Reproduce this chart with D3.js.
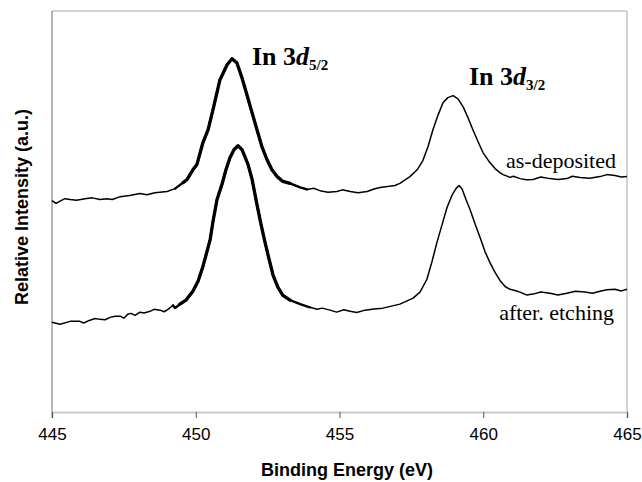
<!DOCTYPE html>
<html>
<head>
<meta charset="utf-8">
<script src="https://cdnjs.cloudflare.com/ajax/libs/d3/7.8.5/d3.min.js"></script>
<style>
body { margin: 0; background: #fff; }
svg { display: block; }
</style>
</head>
<body>
<svg id="svg"></svg>
<script>
// XPS spectra, In 3d region

var asDepEnergy = [445.00, 445.14, 445.28, 445.45, 445.63, 445.85, 446.15, 446.40, 446.67, 446.91,
    447.10, 447.37, 447.70, 448.06, 448.30, 448.58, 449.00,
    449.28, 449.56, 449.70, 449.90, 450.04, 450.25, 450.43, 450.60, 450.84, 451.09,
    451.26, 451.43, 451.61, 451.78, 451.96, 452.13, 452.30, 452.48, 452.65, 452.83,
    453.03, 453.28, 453.63, 453.87, 454.10, 454.32, 454.60, 454.91, 455.10, 455.37,
    455.65, 455.96, 456.20, 456.41, 456.93,
    457.10, 457.45, 457.70, 457.90, 458.08, 458.25, 458.43, 458.60, 458.77, 458.95,
    459.12, 459.30, 459.47, 459.64, 459.82, 459.99, 460.23, 460.41, 460.58, 460.69,
    460.93, 461.05, 461.28, 461.50, 461.73, 462.00, 462.32, 462.60, 462.91, 463.10,
    463.37, 463.70, 464.06, 464.30, 464.58, 464.80, 465.00];
var asDepIntensity = [52.7, 52.0, 52.6, 53.2, 53.0, 52.8, 53.2, 53.4, 53.0, 53.2,
    53.0, 53.7, 54.0, 54.5, 54.2, 54.7, 55.0,
    55.7, 57.2, 58.0, 60.4, 61.7, 67.2, 70.4, 75.4, 82.8, 86.6,
    88.1, 87.1, 83.3, 79.1, 74.6, 70.4, 66.2, 62.9, 60.4, 58.7,
    57.5, 57.0, 56.0, 55.5, 55.8, 55.2, 54.8, 55.0, 55.4, 55.0,
    54.7, 55.0, 55.6, 56.0, 56.5,
    57.0, 58.7, 60.4, 62.7, 66.2, 70.4, 74.1, 77.1, 78.4, 78.9,
    78.1, 76.1, 73.4, 70.4, 67.4, 64.7, 62.2, 60.7, 59.7, 59.2,
    58.5, 58.8, 58.2, 57.9, 58.0, 58.6, 58.2, 58.0, 58.2, 58.8,
    58.5, 58.3, 58.7, 59.2, 59.0, 58.6, 58.7];

var etchEnergy = [445.00, 445.28, 445.63, 445.97, 446.10, 446.32, 446.50, 446.67, 446.85, 447.02,
    447.20, 447.37, 447.50, 447.64, 447.75, 447.89, 448.06, 448.20, 448.41, 448.55,
    448.76, 448.90, 449.03, 449.21, 449.28, 449.45, 449.66, 449.90, 450.08,
    450.25, 450.39, 450.50, 450.60, 450.74, 450.91, 451.05, 451.19, 451.33, 451.47,
    451.61, 451.82, 451.96, 452.13, 452.27, 452.41, 452.55, 452.69, 452.86, 453.03,
    453.28, 453.63, 453.97, 454.22, 454.40, 454.67, 454.90, 455.15, 455.37, 455.60,
    455.89, 456.20, 456.51, 457.10, 457.56,
    457.80, 458.04, 458.22, 458.39, 458.57, 458.74, 458.91, 459.05, 459.16, 459.26,
    459.40, 459.54, 459.71, 459.89, 460.06, 460.23, 460.41, 460.58, 460.76, 460.93,
    461.10, 461.28, 461.50, 461.73, 462.00, 462.32, 462.60, 462.91, 463.20, 463.54,
    463.80, 464.06, 464.30, 464.58, 464.80, 465.00];
var etchIntensity = [22.4, 21.9, 22.6, 22.6, 22.2, 22.9, 23.3, 23.1, 23.0, 23.6,
    23.9, 23.9, 23.4, 24.4, 24.6, 24.1, 24.9, 24.7, 25.1, 25.6,
    25.4, 25.0, 25.6, 26.6, 25.9, 26.9, 27.9, 30.1, 32.6,
    36.3, 40.0, 43.0, 47.5, 53.0, 56.7, 60.4, 63.4, 65.4, 66.4,
    65.4, 61.7, 58.0, 51.7, 46.8, 42.3, 38.1, 34.1, 31.1, 29.1,
    27.9, 26.9, 26.1, 25.6, 25.9, 25.4, 24.9, 25.5, 25.1, 24.8,
    25.4, 25.7, 25.9, 26.9, 28.4,
    29.9, 33.1, 37.6, 42.3, 46.8, 51.0, 54.0, 55.7, 56.5, 55.7,
    53.0, 50.5, 47.0, 43.5, 40.0, 37.3, 34.8, 32.8, 31.3, 30.6,
    30.3, 29.9, 29.2, 29.4, 29.9, 29.6, 29.2, 29.6, 30.1, 29.9,
    29.6, 30.1, 30.5, 30.6, 30.2, 30.6];

var xTicks = [445, 450, 455, 460, 465];
// the 3d5/2 peak is printed heavier: outer band medium, inner band heavy
var midRange = [449.1, 454.0];
var thickRange = [449.3, 453.6];

//////////////////////////////////////////////////////////////////////////////

var width = 642, height = 482;
var margin = {left: 52, right: 15, top: 11, bottom: 70};

var svg = d3.select("#svg")
        .attr("width", width)
        .attr("height", height);

var x = d3.scaleLinear().domain([445, 465]).range([margin.left, width - margin.right]);
var y = d3.scaleLinear().domain([0, 100]).range([height - margin.bottom, margin.top]);

function zipSeries(energy, intensity)
{
    var pts = [];
    for (var i=0; i<energy.length; ++i) {
        pts.push({e: energy[i], v: intensity[i]});
    }
    return pts;
}

var series = [zipSeries(asDepEnergy, asDepIntensity), zipSeries(etchEnergy, etchIntensity)];

// plot border (top and right)
svg.append("path")
    .attr("d", "M" + x(445) + "," + y(100) + "H" + x(465) + "V" + y(0))
    .attr("fill", "none")
    .attr("stroke", "#a6a6a6")
    .attr("stroke-width", 1);

// y axis, no ticks
svg.append("line")
    .attr("x1", x(445)).attr("x2", x(445))
    .attr("y1", y(100)).attr("y2", y(0) + 6)
    .attr("stroke", "#6e6e6e")
    .attr("stroke-width", 1);

// x axis
var xAxis = svg.append("g")
    .attr("transform", "translate(0," + y(0) + ")")
    .call(d3.axisBottom(x).tickValues(xTicks).tickSize(6).tickPadding(10).tickFormat(d3.format("d")));
xAxis.select(".domain").attr("stroke", "#c8c8c8").attr("stroke-width", 2);
xAxis.selectAll(".tick line").attr("stroke", "#555");
xAxis.selectAll(".tick text")
    .attr("font-family", "Liberation Sans, Arial, sans-serif")
    .attr("font-size", 17)
    .attr("fill", "#000");

var line = d3.line()
    .x(function(d) { return x(d.e); })
    .y(function(d) { return y(d.v); });

function inRange(s, r)
{
    return s.filter(function(d) { return d.e >= r[0] && d.e <= r[1]; });
}

series.forEach(function(s) {
    svg.append("path")
        .datum(s)
        .attr("d", line)
        .attr("fill", "none")
        .attr("stroke", "#000")
        .attr("stroke-width", 1.5)
        .attr("stroke-linejoin", "round");
    svg.append("path")
        .datum(inRange(s, midRange))
        .attr("d", line)
        .attr("fill", "none")
        .attr("stroke", "#000")
        .attr("stroke-width", 2.3)
        .attr("stroke-linejoin", "round")
        .attr("stroke-linecap", "round");
    svg.append("path")
        .datum(inRange(s, thickRange))
        .attr("d", line)
        .attr("fill", "none")
        .attr("stroke", "#000")
        .attr("stroke-width", 3.3)
        .attr("stroke-linejoin", "round")
        .attr("stroke-linecap", "round");
});

// axis titles
svg.append("text")
    .attr("x", 347).attr("y", 476)
    .attr("text-anchor", "middle")
    .attr("font-family", "Liberation Sans, Arial, sans-serif")
    .attr("font-size", 18)
    .attr("font-weight", "bold")
    .text("Binding Energy (eV)");

svg.append("text")
    .attr("transform", "translate(28,207) rotate(-90)")
    .attr("text-anchor", "middle")
    .attr("font-family", "Liberation Sans, Arial, sans-serif")
    .attr("font-size", 18)
    .attr("font-weight", "bold")
    .text("Relative Intensity (a.u.)");

// peak labels
function peakLabel(px, py, sub)
{
    var t = svg.append("text")
        .attr("x", px).attr("y", py)
        .attr("font-family", "Liberation Serif, Times New Roman, serif")
        .attr("font-size", 26)
        .attr("font-weight", "bold");
    t.append("tspan").text("In 3");
    t.append("tspan").attr("font-style", "italic").text("d");
    t.append("tspan").attr("font-size", 15).attr("dy", 5).text(sub);
}
peakLabel(252, 65, "5/2");
peakLabel(469, 85, "3/2");

// curve labels
svg.append("text")
    .attr("x", 616).attr("y", 168)
    .attr("text-anchor", "end")
    .attr("font-family", "Liberation Serif, Times New Roman, serif")
    .attr("font-size", 22)
    .text("as-deposited");
svg.append("text")
    .attr("x", 614).attr("y", 320)
    .attr("text-anchor", "end")
    .attr("font-family", "Liberation Serif, Times New Roman, serif")
    .attr("font-size", 22)
    .text("after. etching");
</script>
</body>
</html>
